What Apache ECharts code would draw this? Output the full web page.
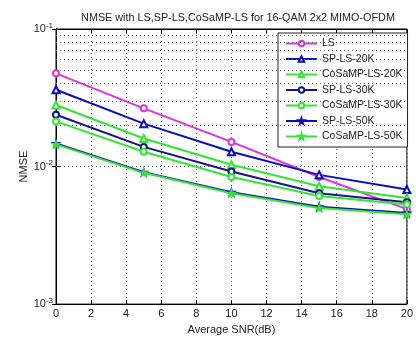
<!DOCTYPE html>
<html>
<head>
<meta charset="utf-8">
<style>
  html, body { margin: 0; padding: 0; background: #fff; }
  #chart { width: 416px; height: 340px; }
</style>
<script src="https://cdn.jsdelivr.net/npm/echarts@6/dist/echarts.min.js"></script>
</head>
<body>
<div id="chart"></div>
<script>
// SNR points (dB)
const snr = [0, 5, 10, 15, 20];

// NMSE per estimator
const ls        = [0.0476, 0.0265, 0.0151, 0.0084, 0.0049];
const sp20k     = [0.0362, 0.0205, 0.0128, 0.0087, 0.0068];
const cosamp20k = [0.0280, 0.0160, 0.0103, 0.0072, 0.0059];
const sp30k     = [0.0238, 0.0139, 0.0092, 0.0064, 0.0055];
const cosamp30k = [0.0213, 0.0128, 0.0084, 0.0061, 0.0053];
const sp50k     = [0.0147, 0.0091, 0.0065, 0.0051, 0.0046];
const cosamp50k = [0.0145, 0.0090, 0.0064, 0.0050, 0.0045];

const seriesNames = ['LS', 'SP-LS-20K', 'CoSaMP-LS-20K', 'SP-LS-30K', 'CoSaMP-LS-30K', 'SP-LS-50K', 'CoSaMP-LS-50K'];

// minor log grid: mantissas within each decade
const mantissas = [2, 3, 4, 5, 6, 7, 8, 9];
const decades = [0.001, 0.01];

const FONT = 'Liberation Sans, Arial, sans-serif';
const STAR = 'path://M50,0 L61,35 L98,35 L68,57 L79,91 L50,70 L21,91 L32,57 L2,35 L39,35 Z';

const MAG = '#dd33dd';
const BLUE = '#0a0ac0';
const NAVY = '#141488';
const GREEN = '#33e633';

function pairs(ys) { return snr.map((x, i) => [x, ys[i]]); }

function lineSeries(name, ys, color, symbol, size) {
  return {
    name: name,
    type: 'line',
    data: pairs(ys),
    symbol: symbol,
    symbolSize: size,
    lineStyle: { color: color, width: 2 },
    itemStyle: { color: color, borderColor: color, borderWidth: 1.5 },
    z: 5
  };
}

const minorLines = [];
decades.forEach(d => mantissas.forEach(m => minorLines.push({ yAxis: +(m * d).toPrecision(3) })));

const dotted = { color: '#666', width: 1, type: [1, 3] };

const chart = echarts.init(document.getElementById('chart'), null, { renderer: 'canvas' });
chart.setOption({
  backgroundColor: '#fff',
  animation: false,
  title: {
    text: 'NMSE with LS,SP-LS,CoSaMP-LS for 16-QAM 2x2 MIMO-OFDM',
    left: 233, textAlign: 'center', top: 8,
    textStyle: { fontFamily: FONT, fontSize: 10.8, fontWeight: 'normal', color: '#222' }
  },
  grid: { left: 56, right: 3, top: 29, bottom: 30, show: true, borderColor: '#000', borderWidth: 1 },
  legend: {
    data: seriesNames,
    orient: 'vertical',
    left: 278, top: 33,
    padding: [4, 5, 4, 7],
    itemWidth: 31, itemHeight: 7, itemGap: 2.5,
    backgroundColor: '#fff',
    borderColor: '#222', borderWidth: 1,
    textStyle: { fontFamily: FONT, fontSize: 10.5, color: '#222', lineHeight: 13 }
  },
  xAxis: [{
    type: 'value', min: 0, max: 20, interval: 2,
    name: 'Average SNR(dB)', nameLocation: 'middle', nameGap: 13,
    nameTextStyle: { fontFamily: FONT, fontSize: 11, color: '#222' },
    axisLine: { show: true, lineStyle: { color: '#000' } },
    axisTick: { inside: true, length: 4, lineStyle: { color: '#000' } },
    axisLabel: { fontFamily: FONT, fontSize: 11, color: '#222', margin: 4 },
    splitLine: { show: true, lineStyle: dotted }
  }, {
    type: 'value', min: 0, max: 20, interval: 2, position: 'top',
    axisLine: { show: true, lineStyle: { color: '#000' } },
    axisTick: { inside: true, length: 4, lineStyle: { color: '#000' } },
    axisLabel: { show: false }, splitLine: { show: false }
  }],
  yAxis: [{
    type: 'log', logBase: 10, min: 0.001, max: 0.1,
    name: 'NMSE', nameLocation: 'middle', nameGap: 27, nameMoveOverlap: false,
    nameTextStyle: { fontFamily: FONT, fontSize: 11, color: '#222' },
    axisLine: { show: true, lineStyle: { color: '#000' } },
    axisTick: { inside: true, length: 4, lineStyle: { color: '#000' } },
    axisLabel: {
      margin: 3,
      formatter: v => '{b|10}{s|' + Math.round(Math.log10(v)) + '}',
      rich: {
        b: { fontFamily: FONT, fontSize: 11, color: '#222' },
        s: { fontFamily: FONT, fontSize: 8, color: '#222', verticalAlign: 'top', padding: [0, 0, 7, 0] }
      }
    },
    splitLine: { show: true, lineStyle: dotted }
  }, {
    type: 'log', logBase: 10, min: 0.001, max: 0.1, position: 'right',
    axisLine: { show: true, lineStyle: { color: '#000' } },
    axisTick: { inside: true, length: 4, lineStyle: { color: '#000' } },
    axisLabel: { show: false }, splitLine: { show: false }
  }],
  series: [
    {
      name: 'grid', type: 'line', data: [], z: 1, silent: true,
      markLine: { silent: true, symbol: 'none', label: { show: false }, lineStyle: dotted, data: minorLines, animation: false }
    },
    lineSeries('LS', ls, MAG, 'emptyCircle', 6),
    lineSeries('SP-LS-20K', sp20k, BLUE, 'emptyTriangle', 7),
    lineSeries('CoSaMP-LS-20K', cosamp20k, GREEN, 'emptyTriangle', 7),
    lineSeries('SP-LS-30K', sp30k, NAVY, 'emptyCircle', 6),
    lineSeries('CoSaMP-LS-30K', cosamp30k, GREEN, 'emptyCircle', 6),
    lineSeries('SP-LS-50K', sp50k, BLUE, STAR, 7),
    lineSeries('CoSaMP-LS-50K', cosamp50k, GREEN, STAR, 7)
  ]
});
</script>
</body>
</html>
